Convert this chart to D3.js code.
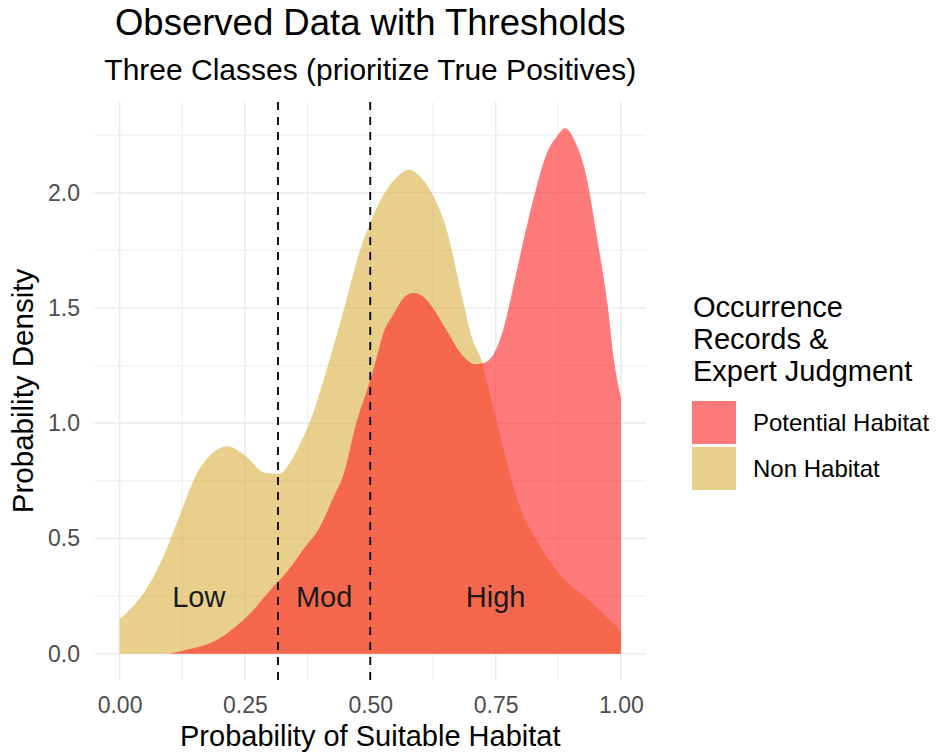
<!DOCTYPE html>
<html>
<head>
<meta charset="utf-8">
<script src="https://cdn.jsdelivr.net/npm/d3@7"></script>
<style>
  body { margin: 0; background: #fff; }
  text { font-family: "Liberation Sans", Arial, sans-serif; }
</style>
</head>
<body>
<div id="container"></div>
<script>
// density curve for "Non Habitat"
const nonHabitatX = [0, 0.02, 0.05, 0.085, 0.12, 0.155, 0.185, 0.215, 0.25, 0.29, 0.318, 0.34, 0.36, 0.38,
   0.416, 0.449, 0.48, 0.5, 0.526, 0.554, 0.577, 0.604, 0.625, 0.653, 0.682, 0.703, 0.724, 0.735,
   0.75, 0.767, 0.795, 0.838, 0.88, 0.94, 1.0];
const nonHabitatY = [0.15, 0.19, 0.27, 0.41, 0.60, 0.785, 0.87, 0.90, 0.86, 0.785, 0.78, 0.83, 0.91, 1.008,
   1.254, 1.507, 1.753, 1.87, 1.99, 2.07, 2.10, 2.06, 1.99, 1.835, 1.56, 1.37, 1.26, 1.16,
   1.03, 0.88, 0.66, 0.47, 0.34, 0.225, 0.10];

// density curve for "Potential Habitat"
const potentialX = [0.10, 0.14, 0.185, 0.227, 0.263, 0.298, 0.334, 0.369, 0.398, 0.426, 0.447, 0.473, 0.49,
   0.509, 0.526, 0.547, 0.568, 0.586, 0.607, 0.625, 0.653, 0.682, 0.71, 0.724, 0.746, 0.767, 0.788,
   0.81, 0.831, 0.852, 0.874, 0.888, 0.909, 0.93, 0.952, 0.973, 0.987, 1.0];
const potentialY = [0.0, 0.02, 0.05, 0.11, 0.18, 0.27, 0.356, 0.46, 0.545, 0.676, 0.78, 1.008, 1.12,
   1.254, 1.39, 1.475, 1.547, 1.565, 1.547, 1.50, 1.40, 1.30, 1.256, 1.26, 1.30, 1.42, 1.62,
   1.835, 2.02, 2.17, 2.25, 2.28, 2.22, 2.08, 1.81, 1.52, 1.26, 1.11];

const thresholds = [0.316, 0.5];
const classLabels = ['Low', 'Mod', 'High'];
const classLabelY = 0.25;

const xTicks = [0, 0.25, 0.5, 0.75, 1];
const xMinor = [0.125, 0.375, 0.625, 0.875];
const yTicks = [0, 0.5, 1, 1.5, 2];
const yMinor = [0.25, 0.75, 1.25, 1.75, 2.25];

const legendTitle = ['Occurrence', 'Records &', 'Expert Judgment'];
const legendLabels = ['Potential Habitat', 'Non Habitat'];

const w = 939;
const h = 755;
const pLeft = 94.5, pRight = 646, pTop = 102, pBottom = 680;

const nonHabitat = nonHabitatX.map((v, i) => [v, nonHabitatY[i]]);
const potential = potentialX.map((v, i) => [v, potentialY[i]]);

const yMax = d3.max(potentialY.concat(nonHabitatY));

const x = d3.scaleLinear().domain([-0.05, 1.05]).range([pLeft, pRight]);
const y = d3.scaleLinear().domain([-0.05 * yMax, 1.05 * yMax]).range([pBottom, pTop]);

const color = d3.scaleOrdinal()
   .domain(legendLabels)
   .range(['#ff2323', '#d9b13f']);
const fillOpacity = 0.6;

const svg = d3.select('#container')
   .append('svg')
   .attr('width', w)
   .attr('height', h);

// grid
svg.selectAll('line.xminor')
   .data(xMinor)
   .enter()
   .append('line')
   .attr('x1', d => x(d)).attr('x2', d => x(d))
   .attr('y1', pTop).attr('y2', pBottom)
   .attr('stroke', '#ebebeb').attr('stroke-width', 0.9);
svg.selectAll('line.yminor')
   .data(yMinor)
   .enter()
   .append('line')
   .attr('y1', d => y(d)).attr('y2', d => y(d))
   .attr('x1', pLeft).attr('x2', pRight)
   .attr('stroke', '#ebebeb').attr('stroke-width', 0.9);
svg.selectAll('line.xmajor')
   .data(xTicks)
   .enter()
   .append('line')
   .attr('x1', d => x(d)).attr('x2', d => x(d))
   .attr('y1', pTop).attr('y2', pBottom)
   .attr('stroke', '#ebebeb').attr('stroke-width', 1.6);
svg.selectAll('line.ymajor')
   .data(yTicks)
   .enter()
   .append('line')
   .attr('y1', d => y(d)).attr('y2', d => y(d))
   .attr('x1', pLeft).attr('x2', pRight)
   .attr('stroke', '#ebebeb').attr('stroke-width', 1.6);

// density areas
const area = d3.area()
   .x(d => x(d[0]))
   .y0(y(0))
   .y1(d => y(d[1]))
   .curve(d3.curveMonotoneX);

svg.append('path')
   .datum(nonHabitat)
   .attr('d', area)
   .attr('fill', color('Non Habitat'))
   .attr('fill-opacity', fillOpacity);

svg.append('path')
   .datum(potential)
   .attr('d', area)
   .attr('fill', color('Potential Habitat'))
   .attr('fill-opacity', fillOpacity);

// thresholds
svg.selectAll('line.thr')
   .data(thresholds)
   .enter()
   .append('line')
   .attr('x1', d => x(d)).attr('x2', d => x(d))
   .attr('y1', pTop).attr('y2', pBottom)
   .attr('stroke', '#000')
   .attr('stroke-width', 1.8)
   .attr('stroke-dasharray', '8,7');

// class labels, centred between the breaks
const breaks = [0].concat(thresholds, [1]);
svg.selectAll('text.cls')
   .data(classLabels)
   .enter()
   .append('text')
   .attr('x', (d, i) => x((breaks[i] + breaks[i + 1]) / 2))
   .attr('y', y(classLabelY))
   .attr('dy', '0.36em')
   .attr('text-anchor', 'middle')
   .attr('font-size', 29)
   .attr('fill', '#1a1a1a')
   .text(d => d);

// axes
const xAxis = svg.append('g')
   .attr('transform', 'translate(0,' + pBottom + ')')
   .call(d3.axisBottom(x).tickValues(xTicks).tickSize(0).tickPadding(17).tickFormat(d3.format('.2f')));
const yAxis = svg.append('g')
   .attr('transform', 'translate(' + pLeft + ',0)')
   .call(d3.axisLeft(y).tickValues(yTicks).tickSize(0).tickPadding(14.5).tickFormat(d3.format('.1f')));
[xAxis, yAxis].forEach(g => {
   g.select('.domain').remove();
   g.selectAll('text')
      .attr('font-family', '"Liberation Sans", Arial, sans-serif')
      .attr('font-size', 23)
      .attr('fill', '#4d4d4d');
});

// titles
const mid = (pLeft + pRight) / 2;
svg.append('text')
   .attr('x', mid).attr('y', 35)
   .attr('text-anchor', 'middle')
   .attr('font-size', 36.5)
   .attr('fill', '#000')
   .text('Observed Data with Thresholds');
svg.append('text')
   .attr('x', mid).attr('y', 80)
   .attr('text-anchor', 'middle')
   .attr('font-size', 30)
   .attr('fill', '#000')
   .text('Three Classes (prioritize True Positives)');
svg.append('text')
   .attr('x', mid).attr('y', 746)
   .attr('text-anchor', 'middle')
   .attr('font-size', 29)
   .attr('fill', '#000')
   .text('Probability of Suitable Habitat');
svg.append('text')
   .attr('transform', 'translate(33,' + (pTop + pBottom) / 2 + ') rotate(-90)')
   .attr('text-anchor', 'middle')
   .attr('font-size', 29.5)
   .attr('fill', '#000')
   .text('Probability Density');

// legend
const legend = svg.append('g').attr('transform', 'translate(692,0)');
legend.selectAll('text.lt')
   .data(legendTitle)
   .enter()
   .append('text')
   .attr('x', 1)
   .attr('y', (d, i) => 317 + i * 32)
   .attr('font-size', 29)
   .attr('fill', '#000')
   .text(d => d);
legend.selectAll('rect')
   .data(legendLabels)
   .enter()
   .append('rect')
   .attr('x', 0)
   .attr('y', (d, i) => 401 + i * 46)
   .attr('width', 44)
   .attr('height', 43)
   .attr('fill', d => color(d))
   .attr('fill-opacity', fillOpacity);
legend.selectAll('text.ll')
   .data(legendLabels)
   .enter()
   .append('text')
   .attr('x', 61)
   .attr('y', (d, i) => 431 + i * 46)
   .attr('font-size', 24)
   .attr('fill', '#000')
   .text(d => d);
</script>
</body>
</html>
